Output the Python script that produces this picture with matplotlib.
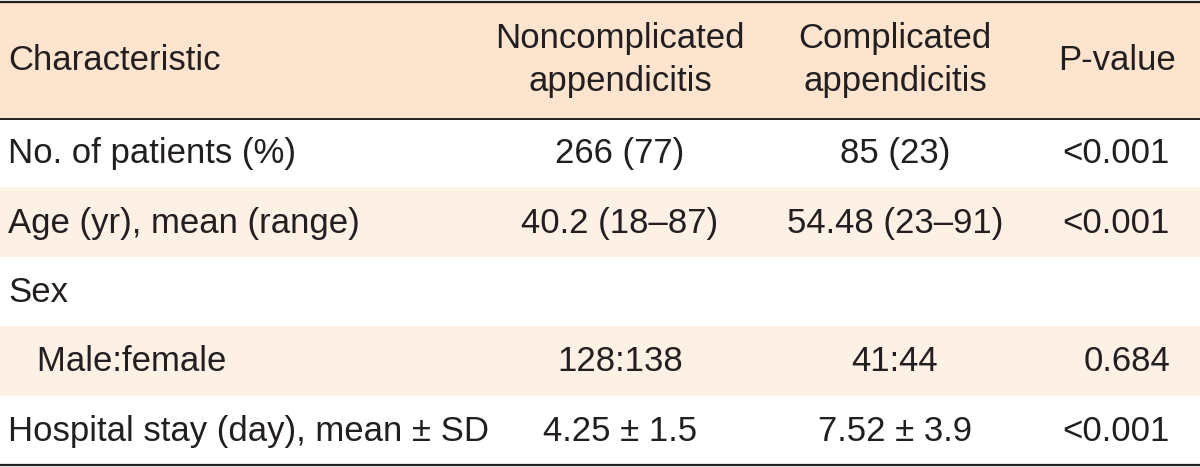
import matplotlib.pyplot as plt
from matplotlib.patches import Rectangle

# Table content
header = ['Characteristic', 'Noncomplicated\nappendicitis', 'Complicated\nappendicitis', 'P-value']
characteristics = ['No. of patients (%)', 'Age (yr), mean (range)', 'Sex',
                   '   Male:female', 'Hospital stay (day), mean \u00b1 SD']
noncomplicated = ['266 (77)', '40.2 (18\u201387)', '', '128:138', '4.25 \u00b1 1.5']
complicated = ['85 (23)', '54.48 (23\u201391)', '', '41:44', '7.52 \u00b1 3.9']
p_values = ['<0.001', '<0.001', '', '0.684', '<0.001']

# Colors
header_bg = '#fce4cf'
band_bg = '#fdf1e6'
text_color = '#231f20'

plt.rcParams['font.family'] = ['Liberation Sans Narrow', 'Liberation Sans', 'DejaVu Sans']

fig = plt.figure(figsize=(12, 4.67), dpi=100)
ax = fig.add_axes([0, 0, 1, 1])
ax.set_xlim(0, 1200)
ax.set_ylim(467, 0)
ax.axis('off')

fs = 25
header_h = 118
row_h = 69.4

# Header band
ax.add_patch(Rectangle((0, 1), 1200, header_h - 1, facecolor=header_bg, edgecolor='none'))
# Alternating row bands
for i in range(len(characteristics)):
    if i % 2 == 1:
        ax.add_patch(Rectangle((0, header_h + i * row_h), 1200, row_h,
                               facecolor=band_bg, edgecolor='none'))

# Rules
ax.axhline(1.5, color=text_color, lw=1.6)
ax.axhline(header_h + 0.5, color=text_color, lw=1.4)
ax.axhline(465, color=text_color, lw=1.6)

# Header text
hy = header_h / 2 + 1
ax.text(8, hy, header[0], ha='left', va='center', fontsize=fs, color=text_color)
ax.text(620, hy, header[1], ha='center', va='center', fontsize=fs, color=text_color, linespacing=1.4)
ax.text(895, hy, header[2], ha='center', va='center', fontsize=fs, color=text_color, linespacing=1.4)
ax.text(1117, hy, header[3], ha='center', va='center', fontsize=fs, color=text_color)

# Body text
for i in range(len(characteristics)):
    y = header_h + (i + 0.5) * row_h + 1
    ax.text(8, y, characteristics[i], ha='left', va='center', fontsize=fs, color=text_color)
    ax.text(620, y, noncomplicated[i], ha='center', va='center', fontsize=fs, color=text_color)
    ax.text(895, y, complicated[i], ha='center', va='center', fontsize=fs, color=text_color)
    ax.text(1170, y, p_values[i], ha='right', va='center', fontsize=fs, color=text_color)

plt.savefig('out.png', dpi=100)
plt.close()
